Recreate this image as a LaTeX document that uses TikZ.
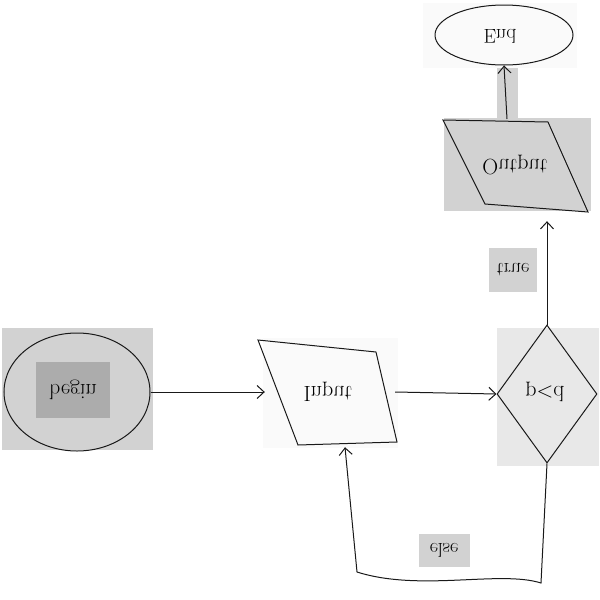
\documentclass[tikz,border=0pt]{standalone}
\usepackage{graphicx}
\usetikzlibrary{arrows.meta,shapes.geometric,calc}
% text is set upside down, as on the sketch
\newcommand\upsidedown[1]{\scalebox{1}[-1]{#1}}
\begin{document}
\begin{tikzpicture}[x=1pt,y=-1pt,
  ink/.style={line width=1pt, black!90},
  flow/.style={ink, -{Straight Barb[length=7pt,width=13pt]}},
  word/.style={font=\fontsize{22}{22}\selectfont, inner sep=0pt},
  tag/.style={fill=gray!35, inner sep=0pt, font=\fontsize{20}{20}\selectfont},
  slot/.style={draw=none, inner sep=0pt},
]
\useasboundingbox (0,0) rectangle (600,600);
\fill[white] (0,0) rectangle (600,600);

% backing panels
\fill[gray!35] (2,328) rectangle (153,450);
\fill[black!2] (263,338) rectangle (398,448);
\fill[gray!18] (497,328) rectangle (599,466);
\fill[gray!35] (444,118) rectangle (591,211);
\fill[black!2] (423,3) rectangle (577,68);
\fill[gray!35] (497,68) rectangle (518,118);

% begin
\node[ellipse, ink, draw, minimum width=146pt, minimum height=118pt, inner sep=0pt] (begin) at (77,392) {};
\node[tag, fill=gray!65, minimum width=74pt, minimum height=56pt, word] (begintext) at (73,390) {\upsidedown{begin}};

% input
\node[slot, minimum width=130pt, minimum height=110pt] (input) at (330,392) {};
\draw[ink] (258,340) -- (376,352) -- (397,442) -- (298,445) -- cycle;
\node[word] (inputtext) at (328,392) {\upsidedown{Input}};

% decision
\node[diamond, ink, draw, minimum width=100pt, minimum height=138pt, inner sep=0pt] (dec) at (547,394) {};
\node[word] (dectext) at (545,392) {\upsidedown{p<d}};

% output
\node[slot, minimum width=140pt, minimum height=90pt] (output) at (515,165) {};
\draw[ink] (443,120) -- (548,122) -- (588,212) -- (485,204) -- cycle;
\node[word] (outputtext) at (515,165) {\upsidedown{Output}};

% end
\node[ellipse, ink, draw, minimum width=138pt, minimum height=60pt, inner sep=0pt] (end) at (504,35) {};
\node[word, font=\fontsize{20}{20}\selectfont] (endtext) at (500,36) {\upsidedown{End}};

% connectors
\draw[flow] (begin.east) -- (input.west);
\draw[flow] (input.east) -- (dec.west);
\draw[flow, shorten >=11pt] (dec.north) -- (dec.north |- output.south);
\node[tag, minimum width=48pt, minimum height=44pt] (truetag) at (513,270) {\upsidedown{true}};
\coordinate (outtop) at (507,119);
\draw[flow] (outtop) -- (end.south);
\draw[flow] (dec.south) -- (541,583) .. controls (500,570) and (420,592) .. (357,572)
  -- ($(input.south)+(15,0)$);
\node[tag, minimum width=51pt, minimum height=33pt] (elsetag) at (444,550) {\upsidedown{else}};
\end{tikzpicture}
\end{document}
